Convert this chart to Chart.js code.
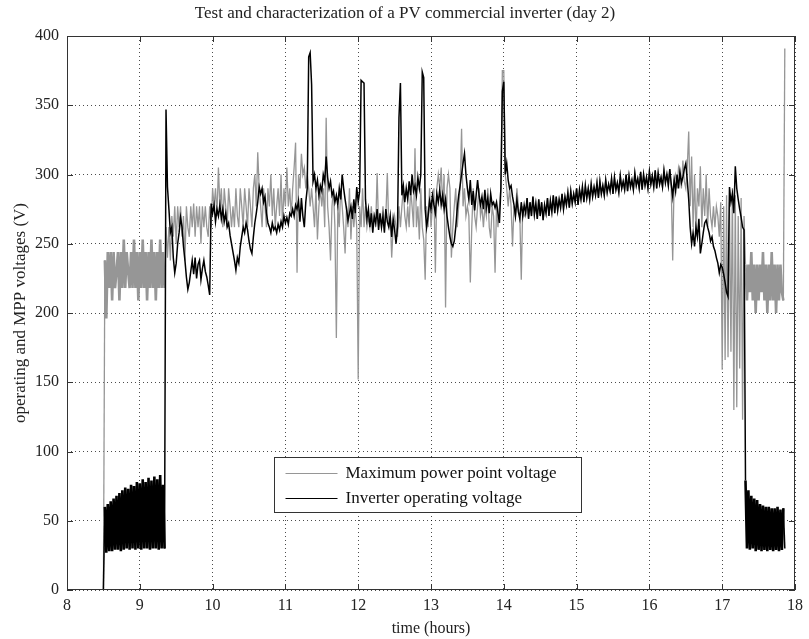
<!DOCTYPE html>
<html lang="en">
<head>
    <meta charset="UTF-8">
    <title>PV commercial inverter (day 2)</title>
    <script src="https://cdn.jsdelivr.net/npm/chart.js"></script>
    <style>
        body { margin: 0; background: #fff; }
        canvas { display: block; }
    </style>
</head>
<body>
    <canvas id="myChart" width="809" height="639"></canvas>
    <script>
        // sampling grid (hours): one sample every 0.02 h starting at 8.5 h
        const tStart = 8.5;
        const tStep = 0.02;

        const xTicks = [8, 9, 10, 11, 12, 13, 14, 15, 16, 17, 18];
        const yTicks = [0, 50, 100, 150, 200, 250, 300, 350, 400];

        // inverter operating voltage (V)
        const inverterV = [
            0, 60, 27, 62, 28, 64, 28, 66, 29, 68,          // 8.5
            29, 70, 28, 72, 29, 74, 30, 73, 29, 76,
            30, 75, 29, 78, 30, 77, 29, 80, 30, 78,         // 8.9
            30, 81, 29, 79, 30, 82, 30, 80, 29, 83,
            30, 76, 30, 347, 291, 275, 258, 262, 240, 229,  // 9.3
            236, 250, 258, 269, 262, 248, 238, 226, 217, 222,
            230, 238, 228, 240, 225, 235, 238, 224, 232, 238, // 9.7
            230, 226, 220, 213, 279, 272, 278, 266, 275, 270,
            278, 268, 275, 266, 272, 262, 265, 256, 250, 244, // 10.1
            238, 231, 240, 236, 248, 255, 262, 258, 265, 260,
            252, 246, 243, 255, 265, 272, 280, 291, 286, 290, // 10.5
            280, 284, 272, 265, 262, 258, 265, 260, 262, 258,
            264, 260, 266, 262, 270, 265, 269, 264, 272, 270, // 10.9
            275, 270, 278, 275, 281, 266, 283, 270, 262, 280,
            290, 385, 388, 365, 295, 300, 290, 296, 285, 292, // 11.3
            288, 300, 295, 313, 298, 290, 295, 285, 288, 280,
            285, 278, 290, 282, 300, 290, 282, 275, 267, 272, // 11.7
            277, 268, 282, 272, 291, 280, 288, 368, 367, 366,
            282, 268, 275, 262, 272, 258, 270, 265, 275, 260, // 12.1
            272, 262, 270, 258, 275, 266, 262, 270, 255, 268,
            260, 250, 262, 341, 366, 285, 292, 280, 290, 282, // 12.5
            295, 285, 300, 288, 292, 285, 298, 290, 300, 374,
            370, 275, 262, 270, 281, 275, 285, 278, 272, 286, // 12.9
            280, 289, 278, 285, 275, 282, 270, 262, 255, 250,
            248, 252, 262, 275, 285, 292, 300, 308, 315, 300, // 13.3
            290, 282, 296, 278, 288, 274, 285, 296, 285, 278,
            284, 275, 289, 276, 283, 272, 286, 278, 280, 276, // 13.7
            280, 272, 265, 290, 360, 367, 300, 308, 296, 290,
            292, 284, 278, 270, 282, 273, 268, 280, 270, 278, // 14.1
            272, 283, 268, 280, 270, 284, 271, 279, 268, 282,
            270, 280, 267, 278, 272, 283, 270, 281, 273, 285, // 14.5
            272, 284, 274, 282, 276, 286, 275, 284, 278, 287,
            276, 288, 279, 286, 280, 290, 278, 289, 282, 291, // 14.9
            280, 292, 283, 290, 282, 293, 284, 291, 285, 294,
            283, 295, 286, 292, 285, 296, 287, 293, 288, 297, // 15.3
            286, 298, 289, 294, 287, 299, 290, 295, 289, 300,
            288, 299, 291, 296, 289, 301, 292, 297, 290, 302, // 15.7
            289, 300, 292, 298, 290, 302, 293, 299, 291, 303,
            290, 301, 293, 298, 291, 303, 294, 300, 292, 304, // 16.1
            293, 284, 296, 288, 300, 290, 302, 294, 298, 304,
            308, 296, 282, 262, 250, 258, 248, 262, 255, 268, // 16.5
            243, 250, 258, 265, 267, 262, 258, 252, 255, 248,
            245, 240, 236, 229, 235, 233, 228, 222, 215, 212, // 16.9
            291, 280, 286, 272, 306, 290, 282, 275, 269, 262,
            260, 79, 30, 72, 29, 68, 30, 66, 28, 65,         // 17.3
            29, 62, 28, 61, 29, 60, 28, 60, 29, 59,
            28, 59, 29, 60, 28, 58, 29, 59, 30               // 17.7
        ];

        // maximum power point voltage (V)
        const mppV = [
            0, 238, 196, 244, 218, 244, 209, 244, 218, 230,  // 8.5
            244, 209, 244, 218, 253, 218, 244, 230, 218, 244,
            218, 253, 218, 244, 209, 244, 218, 253, 218, 244, // 8.9
            209, 244, 218, 253, 218, 244, 209, 244, 218, 253,
            218, 244, 218, 262, 240, 262, 238, 270, 255, 277, // 9.3
            250, 277, 262, 277, 255, 270, 238, 277, 262, 255,
            277, 262, 279, 255, 277, 262, 277, 250, 277, 262, // 9.7
            277, 262, 255, 277, 262, 290, 277, 290, 270, 305,
            277, 290, 262, 290, 277, 262, 290, 277, 262, 277, // 10.1
            262, 290, 270, 262, 290, 277, 262, 290, 277, 262,
            290, 277, 262, 290, 300, 277, 316, 290, 277, 262, // 10.5
            290, 277, 262, 290, 277, 300, 270, 290, 262, 277,
            290, 270, 300, 262, 290, 277, 305, 277, 290, 270, // 10.9
            290, 305, 323, 229, 300, 290, 315, 300, 305, 290,
            300, 290, 277, 290, 277, 262, 290, 253, 277, 290, // 11.3
            277, 290, 262, 341, 277, 262, 238, 277, 290, 262,
            182, 277, 262, 290, 277, 262, 243, 277, 262, 290, // 11.7
            253, 277, 262, 277, 262, 152, 277, 262, 290, 262,
            277, 262, 270, 262, 277, 262, 270, 262, 301, 262, // 12.1
            270, 262, 277, 262, 270, 301, 262, 270, 240, 262,
            270, 262, 255, 277, 262, 277, 290, 270, 262, 277, // 12.5
            262, 290, 277, 262, 319, 262, 277, 253, 290, 262,
            253, 224, 277, 262, 290, 262, 277, 290, 229, 290, // 12.9
            300, 290, 305, 277, 300, 204, 290, 300, 290, 240,
            262, 277, 290, 262, 277, 290, 333, 277, 290, 270, // 13.3
            277, 270, 222, 262, 290, 270, 262, 277, 290, 270,
            277, 262, 277, 270, 290, 262, 254, 277, 270, 229, // 13.7
            277, 262, 277, 290, 375, 375, 300, 290, 277, 290,
            277, 248, 277, 270, 290, 277, 270, 224, 277, 270, // 14.1
            272, 283, 268, 280, 270, 284, 271, 279, 268, 282,
            270, 280, 267, 278, 272, 283, 270, 281, 273, 285, // 14.5
            272, 284, 274, 282, 276, 286, 275, 284, 278, 287,
            276, 288, 279, 286, 280, 290, 278, 289, 282, 291, // 14.9
            280, 292, 283, 290, 282, 293, 284, 291, 285, 294,
            283, 295, 286, 292, 285, 296, 287, 293, 288, 297, // 15.3
            286, 298, 289, 294, 287, 299, 290, 295, 289, 300,
            288, 299, 291, 296, 289, 301, 292, 297, 290, 302, // 15.7
            289, 300, 292, 298, 290, 302, 293, 299, 291, 303,
            290, 301, 293, 298, 291, 303, 294, 300, 292, 304, // 16.1
            290, 238, 296, 300, 290, 305, 300, 290, 310, 295,
            290, 305, 331, 277, 313, 262, 300, 255, 290, 277, // 16.5
            306, 262, 290, 270, 300, 262, 290, 270, 262, 277,
            262, 277, 270, 255, 280, 159, 277, 166, 285, 168, // 16.9
            280, 172, 290, 130, 285, 132, 270, 160, 283, 123,
            270, 235, 209, 235, 215, 244, 209, 235, 200, 235, // 17.3
            209, 235, 215, 244, 209, 235, 200, 235, 209, 244,
            209, 235, 200, 235, 209, 235, 215, 209, 391      // 17.7
        ];

        const toPoints = vals => vals.map((v, i) => ({ x: +(tStart + i * tStep).toFixed(2), y: v }));

        const serif = "'Liberation Serif', 'Times New Roman', serif";
        const gray = '#969696';

        // the noisy start-up / shut-down stretches render as a filled band
        const bandWidth = (w, thick) => c => {
            const x = c.p0.parsed.x;
            return ((x >= 8.51 && x < 9.34) || (x > 17.31 && x < 17.84)) ? thick : w;
        };

        // MATLAB-like box with inward ticks plus legend inside the axes
        const frame = {
            id: 'frame',
            afterDatasetsDraw(chart) {
                const { ctx, chartArea: a, scales } = chart;
                ctx.save();
                ctx.strokeStyle = '#333';
                ctx.lineWidth = 1;
                ctx.strokeRect(a.left + 0.5, a.top + 0.5, a.right - a.left - 1, a.bottom - a.top - 1);
                ctx.beginPath();
                const len = 6;
                xTicks.forEach(v => {
                    const px = Math.round(scales.x.getPixelForValue(v)) + 0.5;
                    ctx.moveTo(px, a.bottom); ctx.lineTo(px, a.bottom - len);
                    ctx.moveTo(px, a.top); ctx.lineTo(px, a.top + len);
                });
                yTicks.forEach(v => {
                    const py = Math.round(scales.y.getPixelForValue(v)) + 0.5;
                    ctx.moveTo(a.left, py); ctx.lineTo(a.left + len, py);
                    ctx.moveTo(a.right, py); ctx.lineTo(a.right - len, py);
                });
                ctx.stroke();

                // legend
                const w = a.right - a.left, h = a.bottom - a.top;
                const l = Math.round(a.left + 0.2845 * w) + 0.5;
                const r = Math.round(a.left + 0.706 * w) + 0.5;
                const t = Math.round(a.top + 0.760 * h) + 0.5;
                const b = Math.round(a.top + 0.859 * h) + 0.5;
                ctx.fillStyle = '#fff';
                ctx.fillRect(l, t, r - l, b - t);
                ctx.strokeStyle = '#333';
                ctx.strokeRect(l, t, r - l, b - t);
                const rows = [
                    { label: 'Maximum power point voltage', color: gray },
                    { label: 'Inverter operating voltage', color: '#000' }
                ];
                ctx.font = '17px ' + serif;
                ctx.textBaseline = 'middle';
                rows.forEach((row, i) => {
                    const y = t + 15.5 + i * 24.5;
                    ctx.strokeStyle = row.color;
                    ctx.beginPath();
                    ctx.moveTo(l + 11, Math.round(y) + 0.5);
                    ctx.lineTo(l + 63, Math.round(y) + 0.5);
                    ctx.stroke();
                    ctx.fillStyle = '#111';
                    ctx.fillText(row.label, l + 71, y + 1);
                });
                ctx.restore();
            }
        };

        const ctx = document.getElementById('myChart').getContext('2d');
        new Chart(ctx, {
            type: 'line',
            data: {
                datasets: [
                    {
                        label: 'Maximum power point voltage',
                        data: toPoints(mppV),
                        borderColor: gray,
                        borderWidth: 1.3,
                        segment: { borderWidth: bandWidth(1.3, 2.6) },
                        pointRadius: 0,
                        fill: false,
                        order: 2
                    },
                    {
                        label: 'Inverter operating voltage',
                        data: toPoints(inverterV),
                        borderColor: '#000',
                        borderWidth: 1.5,
                        segment: { borderWidth: bandWidth(1.5, 2.6) },
                        pointRadius: 0,
                        fill: false,
                        order: 1
                    }
                ]
            },
            options: {
                responsive: false,
                animation: false,
                devicePixelRatio: 1,
                layout: { padding: { left: 12, right: 11, top: 0, bottom: 0 } },
                plugins: {
                    legend: { display: false },
                    tooltip: { enabled: false },
                    title: {
                        display: true,
                        text: 'Test and characterization of a PV commercial inverter (day 2)',
                        color: '#222',
                        font: { family: serif, size: 17, weight: 'normal' },
                        padding: { top: 3, bottom: 12.6 }
                    }
                },
                scales: {
                    x: {
                        type: 'linear',
                        min: 8,
                        max: 18,
                        afterBuildTicks: s => { s.ticks = xTicks.map(v => ({ value: v })); },
                        afterFit: s => { s.height = 49; },
                        ticks: { color: '#222', font: { family: serif, size: 16 }, padding: 6, maxRotation: 0 },
                        grid: { color: 'rgba(0,0,0,0.7)', lineWidth: 1, drawTicks: false },
                        border: { display: false, dash: [1, 3] },
                        title: {
                            display: true,
                            text: 'time (hours)',
                            color: '#222',
                            font: { family: serif, size: 16 },
                            padding: { top: 0, bottom: 1 }
                        }
                    },
                    y: {
                        min: 0,
                        max: 400,
                        afterBuildTicks: s => { s.ticks = yTicks.map(v => ({ value: v })); },
                        afterFit: s => { s.width = 55; },
                        ticks: { color: '#222', font: { family: serif, size: 16 }, padding: 8 },
                        grid: { color: 'rgba(0,0,0,0.7)', lineWidth: 1, drawTicks: false },
                        border: { display: false, dash: [1, 3] },
                        title: {
                            display: true,
                            text: 'operating and MPP voltages (V)',
                            color: '#222',
                            font: { family: serif, size: 17 },
                            padding: { top: -2, bottom: 4 }
                        }
                    }
                }
            },
            plugins: [frame]
        });
    </script>
</body>
</html>
